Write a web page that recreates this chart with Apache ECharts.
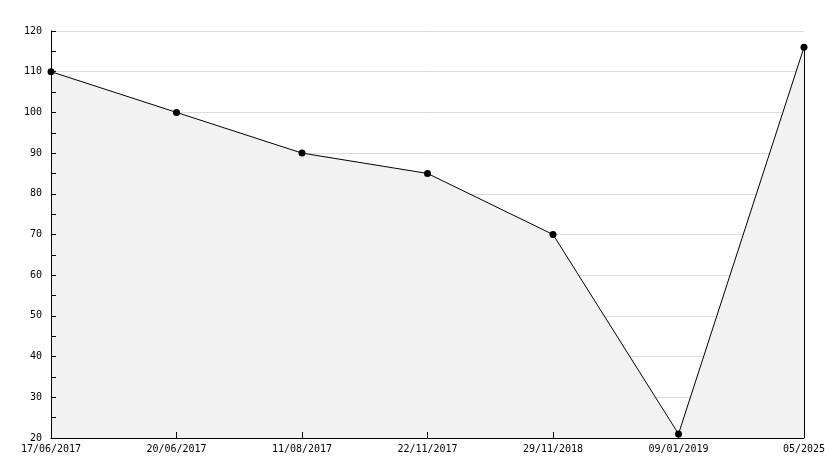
<!DOCTYPE html>
<html><head><meta charset="utf-8">
<script src="https://cdn.jsdelivr.net/npm/echarts@6/dist/echarts.min.js"></script>
<style>html,body{margin:0;padding:0;background:#fff}#c{width:834px;height:468px}</style>
</head><body><div id="c"></div>
<script>
const categories = ['17/06/2017','20/06/2017','11/08/2017','22/11/2017','29/11/2018','09/01/2019','05/2025'];
const values = [110, 100, 90, 85, 70, 21, 116];
const yTicks = {min: 20, max: 120, interval: 10};

const font = 'DejaVu Sans Mono';
const chart = echarts.init(document.getElementById('c'));
chart.setOption({
  animation: false,
  backgroundColor: '#fff',
  grid: {left: 51, right: 30, top: 31, bottom: 30, containLabel: false},
  xAxis: {
    type: 'category', data: categories, boundaryGap: false, z: 5,
    axisLine: {lineStyle: {color: '#000', width: 1}},
    axisTick: {show: true, inside: true, length: 6, lineStyle: {color: '#000'}},
    axisLabel: {color: '#000', fontFamily: font, fontSize: 10, margin: 6, interval: 0},
    splitLine: {show: false}
  },
  yAxis: [{
    type: 'value', min: yTicks.min, max: yTicks.max, interval: yTicks.interval, z: 0,
    position: 'left',
    axisLine: {show: false}, axisTick: {show: false}, axisLabel: {show: false},
    splitLine: {show: true, lineStyle: {color: '#dcdcdc', width: 1}}
  }, {
    type: 'value', min: yTicks.min, max: yTicks.max, interval: yTicks.interval, z: 5,
    position: 'left', offset: 0,
    axisLine: {show: true, lineStyle: {color: '#000', width: 1}},
    axisTick: {show: true, inside: true, length: 5, lineStyle: {color: '#000'}},
    minorTick: {show: true, splitNumber: 2, length: 5, lineStyle: {color: '#000'}},
    axisLabel: {color: '#000', fontFamily: font, fontSize: 10, margin: 9},
    splitLine: {show: false}
  }],
  series: [{
    type: 'line', data: values, z: 2, yAxisIndex: 0,
    symbol: 'circle', symbolSize: 7,
    itemStyle: {color: '#000'},
    lineStyle: {color: '#000', width: 1},
    areaStyle: {color: '#f2f2f2', opacity: 1, origin: 'start'},
    markLine: {
      silent: true, symbol: 'none', label: {show: false},
      lineStyle: {color: '#000', width: 1, type: 'solid'},
      data: [[{coord: [categories[categories.length-1], values[values.length-1]]},
              {coord: [categories[categories.length-1], yTicks.min]}]]
    }
  }]
});
</script></body></html>
